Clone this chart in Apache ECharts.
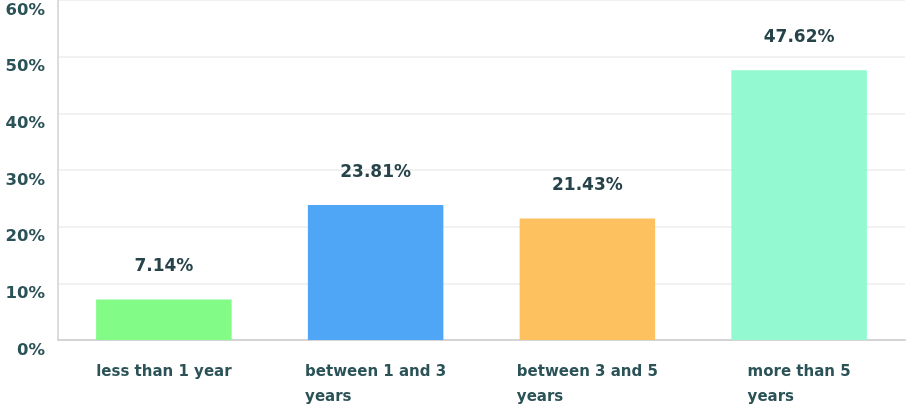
<!DOCTYPE html>
<html><head><meta charset="utf-8">
<script src="https://cdn.jsdelivr.net/npm/echarts@6/dist/echarts.min.js"></script>
<style>html,body{margin:0;padding:0;background:#fff}#c{width:914px;height:411px}</style>
</head><body><div id="c"></div>
<script>
const categories = ['less than 1 year', 'between 1 and 3\nyears', 'between 3 and 5\nyears', 'more than 5\nyears'];
const values = [7.14, 23.81, 21.43, 47.62];
const barColors = ['#82fb87', '#4fa5f6', '#fdc25f', '#93f9d0'];
const yTicks = [0, 10, 20, 30, 40, 50, 60];

const FONT = '"DejaVu Sans", sans-serif';
const chart = echarts.init(document.getElementById('c'));
chart.setOption({
  animation: false,
  grid: { left: 58, right: 9, top: -4, bottom: 71 },
  xAxis: {
    type: 'category',
    data: categories,
    axisTick: { show: false },
    axisLine: { lineStyle: { color: '#d4d4d4', width: 2 } },
    axisLabel: {
      margin: 20,
      interval: 0,
      formatter: v => v.split('\n').map(l => '{a|' + l + '}').join('\n'),
      rich: { a: { align: 'left', fontFamily: FONT, fontWeight: 700, fontSize: 15, color: '#2b5257', lineHeight: 25 } }
    }
  },
  yAxis: {
    type: 'value',
    min: yTicks[0], max: yTicks[yTicks.length - 1], interval: 10,
    axisLine: { show: true, lineStyle: { color: '#dcdcdc', width: 2 } },
    splitLine: { lineStyle: { color: '#ececec', width: 1.5 } },
    axisLabel: {
      formatter: '{value}%',
      margin: 13,
      verticalAlign: 'top',
      padding: [2, 0, 0, 0],
      fontFamily: FONT, fontWeight: 700, fontSize: 16.5, color: '#2b5257'
    }
  },
  series: [{
    type: 'bar',
    barWidth: '64%',
    data: values.map((v, i) => ({ value: v, itemStyle: { color: barColors[i] } })),
    label: {
      show: true, position: 'top', distance: 24,
      formatter: p => p.value.toFixed(2) + '%',
      fontFamily: FONT, fontWeight: 700, fontSize: 17, color: '#27434a'
    }
  }]
});
</script></body></html>
